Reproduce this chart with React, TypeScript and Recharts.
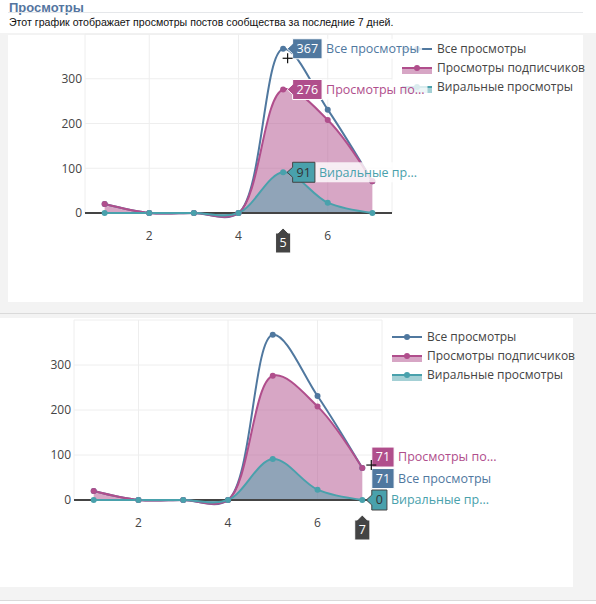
import React from 'react';
import {
  ComposedChart,
  Area,
  Line,
  XAxis,
  YAxis,
  CartesianGrid,
  ReferenceLine,
  LabelList,
} from 'recharts';

// ---------- data ----------
const days = [1, 2, 3, 4, 5, 6, 7];
const allViews = [20, 0, 0, 0, 367, 231, 71];
const subscriberViews = [20, 0, 0, 0, 276, 208, 71];
const viralViews = [0, 0, 0, 0, 91, 23, 0];
const seriesNames = ['Все просмотры', 'Просмотры подписчиков', 'Виральные просмотры'];
const shortNames = ['Все просмотры', 'Просмотры по...', 'Виральные пр...'];
const xTicks = [2, 4, 6];
const yTicks = [0, 100, 200, 300];
const pageTitle = 'Просмотры';
const pageDescription = 'Этот график отображает просмотры постов сообщества за последние 7 дней.';

const data = days.map((d, i) => ({
  day: d,
  all: allViews[i],
  subs: subscriberViews[i],
  viral: viralViews[i],
}));

// ---------- style ----------
const ALL = '#50789f';
const PINK = '#b04e8c';
const TEAL = '#49a1ac';
const FONT = '"Open Sans", sans-serif';

let measureCtx: any = null;
function textWidth(s: string, font: string) {
  if (!measureCtx) measureCtx = document.createElement('canvas').getContext('2d');
  measureCtx.font = font;
  return measureCtx.measureText(s).width;
}

// Plotly-like spline (centripetal catmull-rom, smoothing 1)
function makeTangent(p0: number[], p1: number[], p2: number[]) {
  const d1x = p0[0] - p1[0];
  const d1y = p0[1] - p1[1];
  const d2x = p2[0] - p1[0];
  const d2y = p2[1] - p1[1];
  const d1a = Math.pow(d1x * d1x + d1y * d1y, 0.25);
  const d2a = Math.pow(d2x * d2x + d2y * d2y, 0.25);
  const numx = d2a * d2a * d1x - d1a * d1a * d2x;
  const numy = d2a * d2a * d1y - d1a * d1a * d2y;
  const den1 = 3 * d2a * (d1a + d2a);
  const den2 = 3 * d1a * (d1a + d2a);
  return [
    [p1[0] + (den1 ? numx / den1 : 0), p1[1] + (den1 ? numy / den1 : 0)],
    [p1[0] - (den2 ? numx / den2 : 0), p1[1] - (den2 ? numy / den2 : 0)],
  ];
}

const plotlySpline: any = (context: any) => {
  let pts: number[][] = [];
  let line = NaN;
  return {
    areaStart() {
      line = 0;
    },
    areaEnd() {
      line = NaN;
    },
    lineStart() {
      pts = [];
    },
    point(x: number, y: number) {
      pts.push([+x, +y]);
    },
    lineEnd() {
      const n = pts.length;
      if (n > 0) {
        if (line) context.lineTo(pts[0][0], pts[0][1]);
        else context.moveTo(pts[0][0], pts[0][1]);
        if (n === 2) {
          context.lineTo(pts[1][0], pts[1][1]);
        } else if (n > 2) {
          const t: number[][][] = [];
          for (let i = 1; i < n - 1; i++) t.push(makeTangent(pts[i - 1], pts[i], pts[i + 1]));
          context.quadraticCurveTo(t[0][0][0], t[0][0][1], pts[1][0], pts[1][1]);
          for (let i = 2; i < n - 1; i++) {
            context.bezierCurveTo(
              t[i - 2][1][0], t[i - 2][1][1],
              t[i - 1][0][0], t[i - 1][0][1],
              pts[i][0], pts[i][1]
            );
          }
          context.quadraticCurveTo(t[n - 3][1][0], t[n - 3][1][1], pts[n - 1][0], pts[n - 1][1]);
        }
      }
      if (line === 1) context.closePath();
      line = 1 - line;
    },
  };
};

type HoverCfg = {
  index: number;
  color: string;
  textColor: string;
  border: string;
  name: string;
  dy?: number;
  arrow?: boolean;
  cursor?: [number, number];
};

const makeHover = (cfg: HoverCfg) => (p: any) => {
  if (p.index !== cfg.index) return null;
  const px = Number(p.x);
  const py = Number(p.y);
  const cy = py + (cfg.dy || 0);
  const h = 20;
  const font = '12.5px "Open Sans"';
  const val = String(p.value);
  const w = textWidth(val, font) + 8;
  const tipX = px + 4;
  const boxL = px + 9.5;
  const boxR = boxL + w;
  const top = cy - h / 2;
  const nameW = textWidth(cfg.name, font);
  const path = cfg.arrow
    ? `M${tipX},${py} L${boxL},${py - 5} V${top} H${boxR} V${top + h} H${boxL} V${py + 5} Z`
    : `M${boxL},${top} H${boxR} V${top + h} H${boxL} Z`;
  return (
    <g>
      <rect x={boxR} y={top} width={nameW + 7} height={h} fill="#fff" fillOpacity={0.8} />
      <path d={path} fill={cfg.color} stroke={cfg.border} strokeWidth={1} />
      <text x={(boxL + boxR) / 2} y={cy} dy="0.35em" textAnchor="middle" fontSize={12.5} fontFamily={FONT} fill={cfg.textColor}>
        {val}
      </text>
      <text x={boxR + 4} y={cy} dy="0.35em" fontSize={12.5} fontFamily={FONT} fill={cfg.color}>
        {cfg.name}
      </text>
      {cfg.cursor ? (
        <g stroke="#111" strokeWidth={1.2}>
          <line x1={px + cfg.cursor[0] - 5} x2={px + cfg.cursor[0] + 5} y1={py + cfg.cursor[1]} y2={py + cfg.cursor[1]} />
          <line x1={px + cfg.cursor[0]} x2={px + cfg.cursor[0]} y1={py + cfg.cursor[1] - 5} y2={py + cfg.cursor[1] + 5} />
        </g>
      ) : null}
    </g>
  );
};

const makeXHover = (value: number) => (p: any) => {
  const vb = p.viewBox || {};
  const cx = Number(vb.x);
  const bottom = Number(vb.y) + Number(vb.height);
  const tipY = bottom + 15;
  const top = tipY + 5;
  const h = 20;
  const w = textWidth(String(value), '12.5px "Open Sans"') + 8;
  const d = `M${cx},${tipY} L${cx + 5},${top} H${cx + w / 2} V${top + h} H${cx - w / 2} V${top} H${cx - 5} Z`;
  return (
    <g>
      <path d={d} fill="#444" stroke="#fff" strokeWidth={1} />
      <text x={cx} y={top + h / 2} dy="0.35em" textAnchor="middle" fontSize={12.5} fontFamily={FONT} fill="#fff">
        {value}
      </text>
    </g>
  );
};

function PlotLegend({ x, y }: { x: number; y: number }) {
  const items = [
    { name: seriesNames[0], color: ALL, fill: false },
    { name: seriesNames[1], color: PINK, fill: true },
    { name: seriesNames[2], color: TEAL, fill: true },
  ];
  return (
    <svg style={{ position: 'absolute', left: x, top: y, overflow: 'visible' }} width={200} height={60}>
      {items.map((it, i) => {
        const cy = 10 + i * 19;
        return (
          <g key={i}>
            {it.fill ? <rect x={0} y={cy} width={30} height={6} fill={it.color} fillOpacity={0.5} /> : null}
            <line x1={0} x2={30} y1={cy} y2={cy} stroke={it.color} strokeWidth={2} />
            <circle cx={15} cy={cy} r={3} fill={it.color} />
            <text x={35} y={cy} dy="0.35em" fontSize={12} fill="#444" fontFamily={FONT}>
              {it.name}
            </text>
          </g>
        );
      })}
    </svg>
  );
}

type ChartProps = {
  left: number;
  top: number;
  width: number;
  height: number;
  plotLeft: number;
  plotRight: number;
  plotTop: number;
  plotBottom: number;
  legendTop: number;
  hoverIndex: number;
  hovers: { all: Partial<HoverCfg>; subs: Partial<HoverCfg>; viral: Partial<HoverCfg> };
};

function ViewsChart(props: ChartProps) {
  const { left, top, width, height, plotLeft, plotRight, plotTop, plotBottom, legendTop, hoverIndex, hovers } = props;
  const xAxisHeight = 30;
  const tickStyle = { fill: '#444', fontSize: 12, fontFamily: FONT };
  return (
    <div style={{ position: 'absolute', left, top, width, height, fontFamily: FONT }}>
      <PlotLegend x={plotRight + 10} y={legendTop} />
      <ComposedChart
        width={width}
        height={height}
        data={data}
        margin={{ top: plotTop, right: width - plotRight, left: 0, bottom: height - plotBottom - xAxisHeight }}
      >
        <CartesianGrid stroke="#eee" strokeWidth={1} />
        <XAxis
          dataKey="day"
          type="number"
          domain={[0.56, 7.44]}
          ticks={xTicks}
          interval={0}
          axisLine={false}
          tickLine={false}
          tickSize={0}
          tickMargin={18}
          height={xAxisHeight}
          tick={tickStyle}
        />
        <YAxis
          type="number"
          domain={[0, 400]}
          ticks={yTicks}
          interval={0}
          axisLine={false}
          tickLine={false}
          tickSize={0}
          tickMargin={3}
          width={plotLeft}
          tick={tickStyle}
        />
        <ReferenceLine y={0} stroke="#444" strokeWidth={2} />
        <Area dataKey="subs" type={plotlySpline} stroke="none" fill={PINK} fillOpacity={0.5} dot={false} activeDot={false} isAnimationActive={false} />
        <Area dataKey="viral" type={plotlySpline} stroke="none" fill={TEAL} fillOpacity={0.5} dot={false} activeDot={false} isAnimationActive={false} />
        <Line dataKey="all" type={plotlySpline} stroke={ALL} strokeWidth={2} dot={{ r: 3, fill: ALL, stroke: 'none' }} activeDot={false} isAnimationActive={false}>
          <LabelList
            dataKey="all"
            content={makeHover({ index: hoverIndex, color: ALL, textColor: '#fff', border: '#fff', name: shortNames[0], arrow: true, ...hovers.all } as HoverCfg)}
          />
        </Line>
        <Line dataKey="subs" type={plotlySpline} stroke={PINK} strokeWidth={2} dot={{ r: 3, fill: PINK, stroke: 'none' }} activeDot={false} isAnimationActive={false}>
          <LabelList
            dataKey="subs"
            content={makeHover({ index: hoverIndex, color: PINK, textColor: '#fff', border: '#fff', name: shortNames[1], arrow: true, ...hovers.subs } as HoverCfg)}
          />
        </Line>
        <Line dataKey="viral" type={plotlySpline} stroke={TEAL} strokeWidth={2} dot={{ r: 3, fill: TEAL, stroke: 'none' }} activeDot={false} isAnimationActive={false}>
          <LabelList
            dataKey="viral"
            content={makeHover({ index: hoverIndex, color: TEAL, textColor: '#333', border: '#444', name: shortNames[2], arrow: true, ...hovers.viral } as HoverCfg)}
          />
        </Line>
        <ReferenceLine x={days[hoverIndex]} stroke="none" label={makeXHover(days[hoverIndex])} />
      </ComposedChart>
    </div>
  );
}

export default function App() {
  return (
    <div style={{ position: 'absolute', left: 0, top: 0, width: 596, height: 604, background: '#fff', overflow: 'hidden' }}>
      <div style={{ position: 'absolute', left: 9, top: 0, fontFamily: '"Liberation Sans", Arial, sans-serif', fontWeight: 'bold', fontSize: 13, color: '#5475a0', lineHeight: '15px' }}>
        {pageTitle}
      </div>
      <div style={{ position: 'absolute', left: 8, top: 12, width: 575, height: 1, background: '#e5e7ea' }} />
      <div style={{ position: 'absolute', left: 9, top: 16, fontFamily: '"Liberation Sans", Arial, sans-serif', fontSize: 10.6, color: '#111', lineHeight: '13px', whiteSpace: 'nowrap' }}>
        {pageDescription}
      </div>
      {/* container 1 */}
      <div style={{ position: 'absolute', left: 0, top: 33, width: 596, height: 285, background: '#f3f3f3' }} />
      <div style={{ position: 'absolute', left: 8, top: 35, width: 575, height: 267, background: '#fff' }} />
      <div style={{ position: 'absolute', left: 0, top: 313, width: 596, height: 1, background: '#dadada' }} />
      {/* container 2 */}
      <div style={{ position: 'absolute', left: 0, top: 318, width: 596, height: 282, background: '#f3f3f3' }} />
      <div style={{ position: 'absolute', left: 0, top: 318, width: 573, height: 269, background: '#fff' }} />
      <div style={{ position: 'absolute', left: 0, top: 600, width: 596, height: 1, background: '#dadada' }} />

      <ViewsChart
        left={8}
        top={33}
        width={575}
        height={269}
        plotLeft={77}
        plotRight={384}
        plotTop={1}
        plotBottom={180}
        legendTop={5.5}
        hoverIndex={4}
        hovers={{ all: { cursor: [4.5, 9.5] }, subs: {}, viral: {} }}
      />
      <ViewsChart
        left={0}
        top={318}
        width={573}
        height={270}
        plotLeft={74}
        plotRight={382}
        plotTop={2}
        plotBottom={182}
        legendTop={9}
        hoverIndex={6}
        hovers={{ all: { dy: 10.5, arrow: false }, subs: { dy: -11, arrow: false, cursor: [9, -3] }, viral: {} }}
      />
    </div>
  );
}
